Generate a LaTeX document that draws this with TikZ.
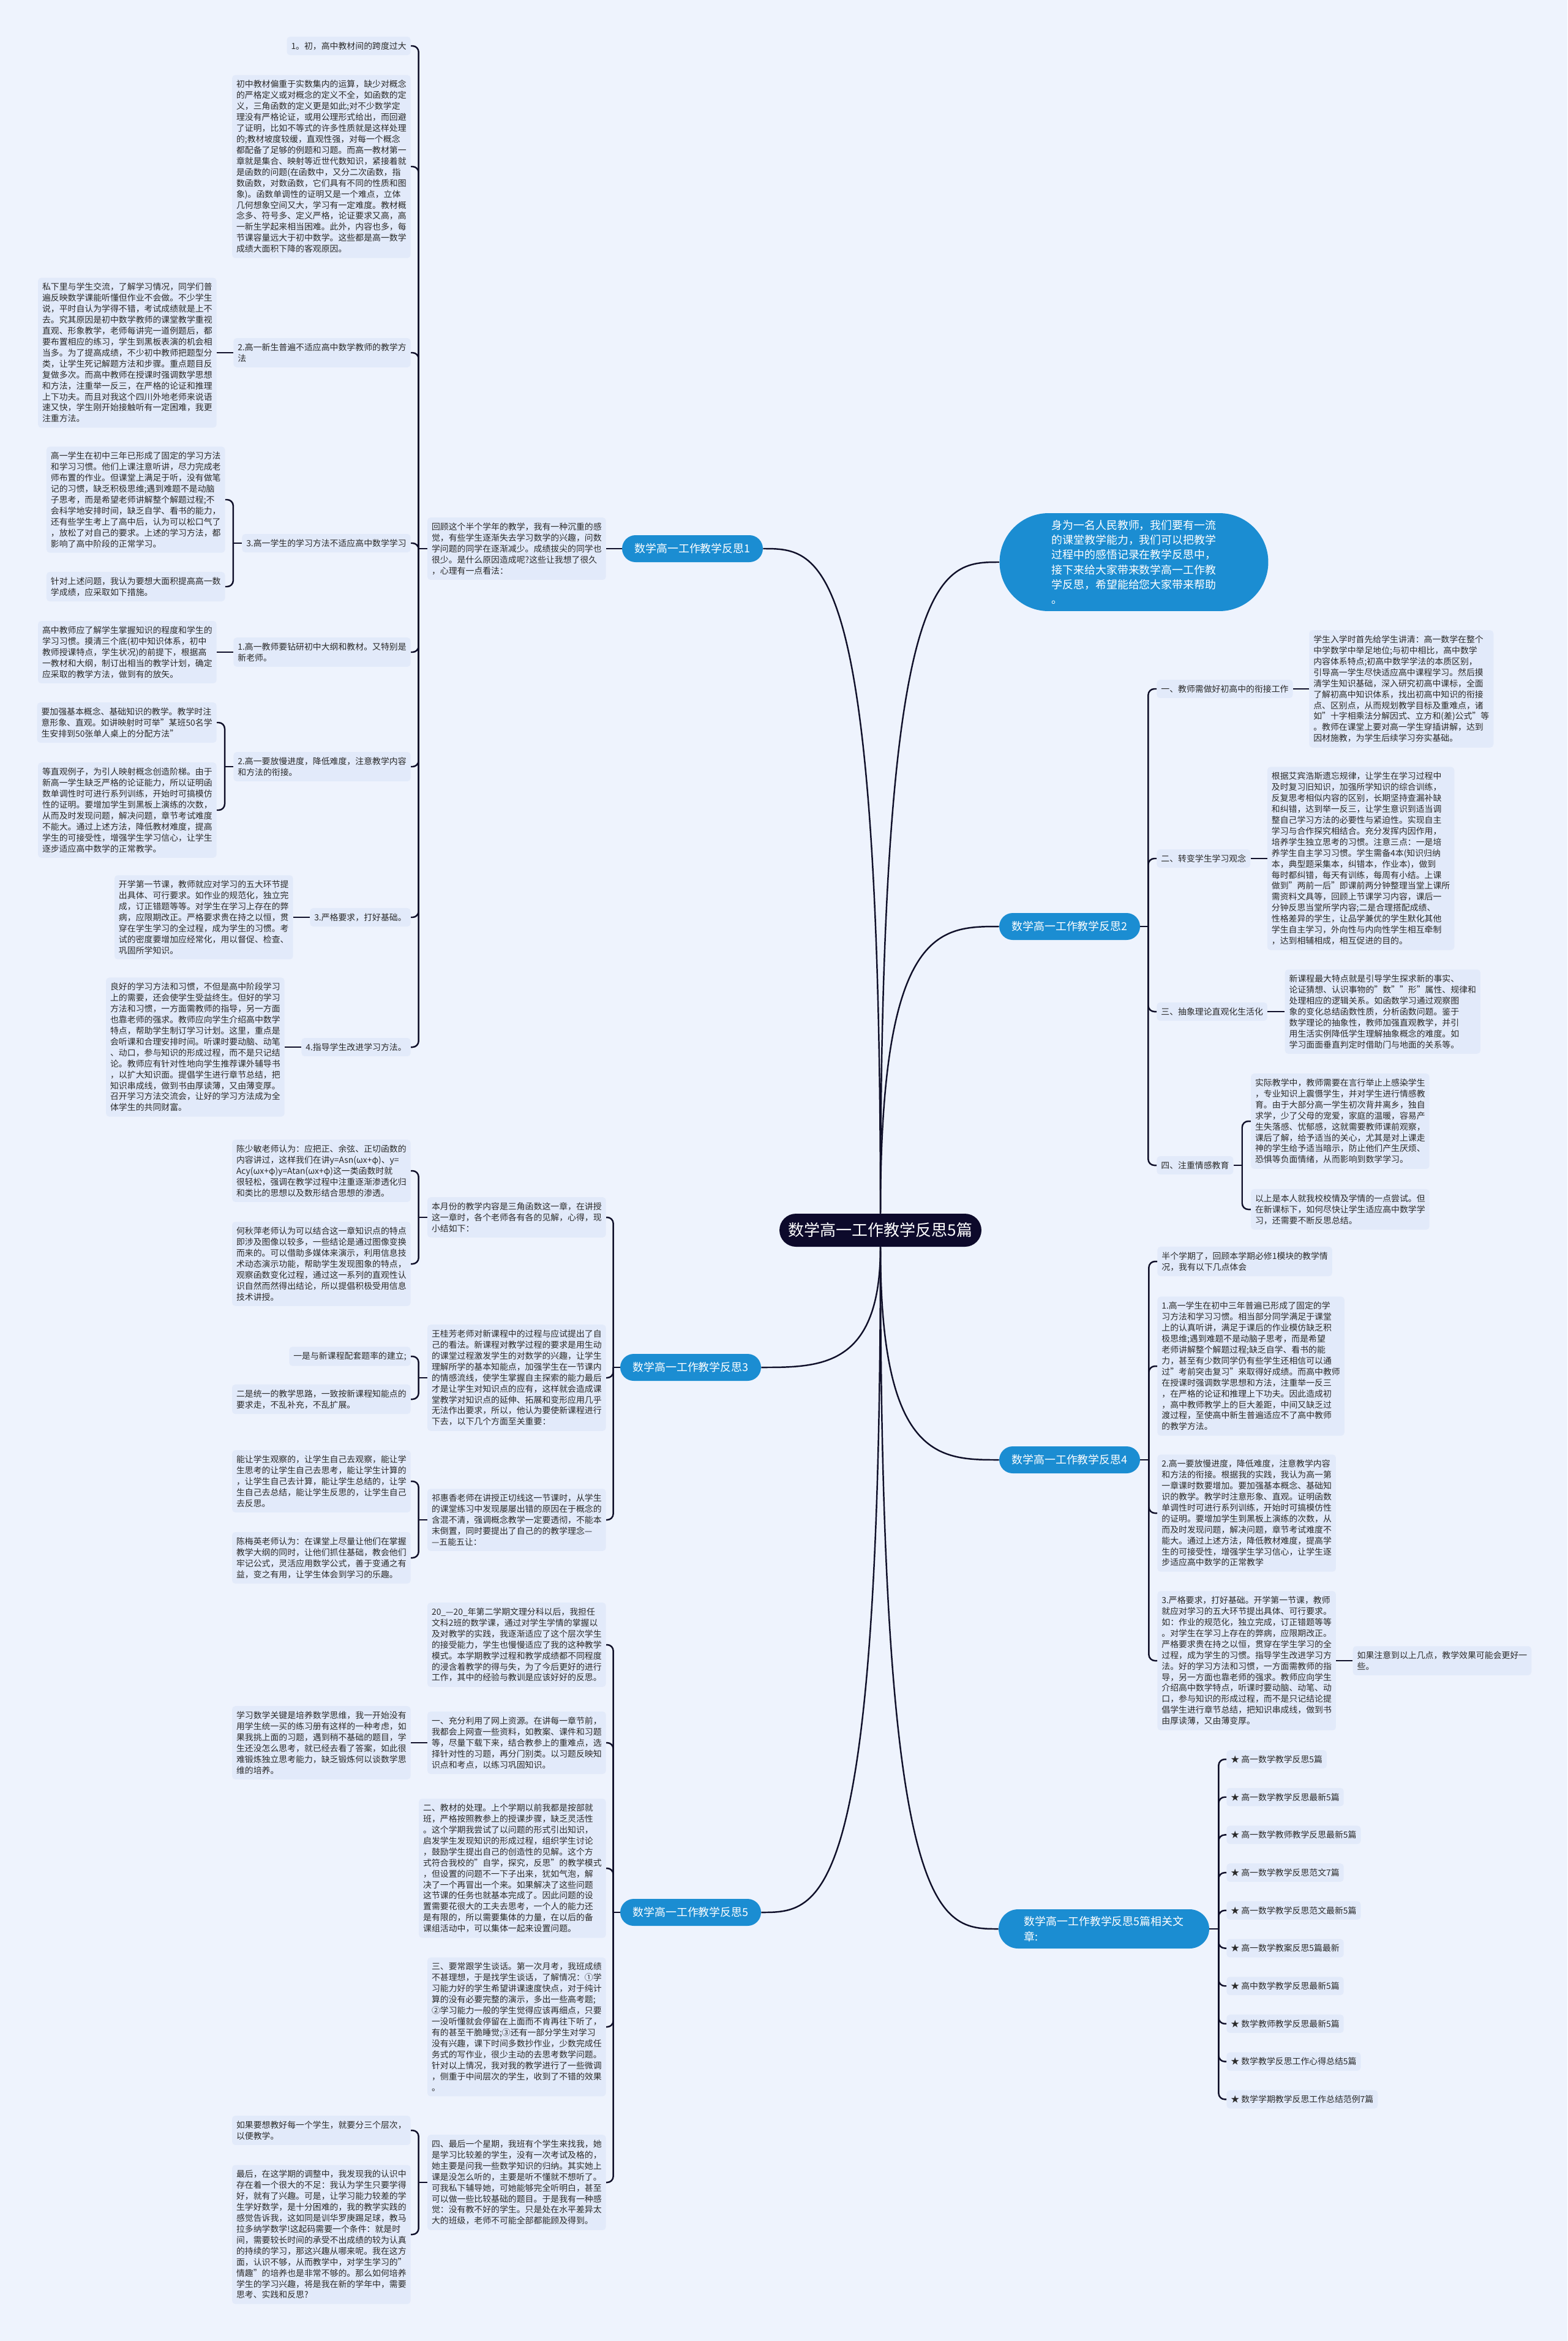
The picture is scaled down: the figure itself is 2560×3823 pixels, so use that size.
\documentclass[tikz,border=0pt]{standalone}
\usepackage{fontspec}
\setmainfont{Noto Sans CJK SC}
\usetikzlibrary{calc,positioning}

\definecolor{pagebg}{HTML}{EEF3FD}
\definecolor{boxfill}{HTML}{E2EAFA}
\definecolor{pillblue}{HTML}{1B8DD2}
\definecolor{rootnavy}{HTML}{0D0A2B}
\definecolor{wire}{HTML}{10102A}
\definecolor{ink}{HTML}{2A2A2A}

\begin{document}
\begin{tikzpicture}[
  x=0.02cm,
  y=-0.02cm,
  txt/.style={fill=boxfill,rounded corners=3pt,align=left,text=ink,
              inner xsep=0.14cm,inner ysep=0.17cm,
              font=\fontsize{7.9}{10.2}\selectfont},
  pill/.style={fill=pillblue,text=white,rounded corners=0.44cm,inner sep=0pt,
               minimum width=4.6cm,minimum height=0.88cm,
               font=\fontsize{10.2}{13.8}\selectfont},
  bubble/.style={pill,rounded corners=1.6cm,align=left,
                 minimum width=8.78cm,minimum height=3.2cm},
  rootbox/.style={fill=rootnavy,text=white,rounded corners=0.54cm,inner sep=0pt,
                  minimum width=6.6cm,minimum height=1.08cm,
                  font=\fontsize{14.8}{18}\selectfont},
  trunk/.style={draw=wire,line width=1.4pt},
  link/.style={trunk,rounded corners=0.2cm}
]

\useasboundingbox (0,0) rectangle (2560,3823);
\fill[pagebg] (0,0) rectangle (2560,3823);

% =====================================================================
% root and first-level nodes
% =====================================================================
\node[rootbox] (ctr) at (1438,2009) {数学高一工作教学反思5篇};

\node[pill] (B1) at (1131,896)  {数学高一工作教学反思1};
\node[pill] (B3) at (1128,2233) {数学高一工作教学反思3};
\node[pill] (B5) at (1128,3123) {数学高一工作教学反思5};
\node[pill] (B2) at (1747,1513) {数学高一工作教学反思2};
\node[pill] (B4) at (1747,2384) {数学高一工作教学反思4};
\node[pill,align=left,minimum width=6.88cm,minimum height=1.28cm,
      rounded corners=0.64cm] (B6) at (1803,3150)
  {数学高一工作教学反思5篇相关文\\章:};

\node[bubble] (bub) at (1852,918)
  {身为一名人民教师，我们要有一流\\的课堂教学能力，我们可以把教学\\
   过程中的感悟记录在教学反思中，\\接下来给大家带来数学高一工作教\\
   学反思，希望能给您大家带来帮助\\。};

% curved trunks out of the root
\foreach \b/\s in {B1/north,B3/south,B5/south}{
  \draw[trunk] (ctr.\s) .. controls (ctr.\s |- \b.east)
    and ($(ctr.\s |- \b.east)!0.5!(\b.east)$) .. (\b.east);
}
\foreach \b/\s in {bub/north,B2/north,B4/south,B6/south}{
  \draw[trunk] (ctr.\s) .. controls (ctr.\s |- \b.west)
    and ($(ctr.\s |- \b.west)!0.5!(\b.west)$) .. (\b.west);
}

% =====================================================================
% Branch 1 (left, top)
% =====================================================================
\node[txt,anchor=east] (t1) at (990,896)
  {回顾这个半个学年的教学，我有一种沉重的感\\觉，有些学生逐渐失去学习数学的兴趣，问数\\
   学问题的同学在逐渐减少。成绩拔尖的同学也\\很少。是什么原因造成呢?这些让我想了很久\\
   ，心理有一点看法：};
\draw[trunk] (B1.west) -- (t1.east);
\draw[trunk] (t1.west) -- ++(-14,0) coordinate (j1);

\node[txt,anchor=east] (a1) at (671,75) {1。初，高中教材间的跨度过大};
\node[txt,anchor=east] (a2) at (671,272)
  {初中教材偏重于实数集内的运算，缺少对概念\\的严格定义或对概念的定义不全，如函数的定\\
   义，三角函数的定义更是如此;对不少数学定\\理没有严格论证，或用公理形式给出，而回避\\
   了证明，比如不等式的许多性质就是这样处理\\的;教材坡度较缓，直观性强，对每一个概念\\
   都配备了足够的例题和习题。而高一教材第一\\章就是集合、映射等近世代数知识，紧接着就\\
   是函数的问题(在函数中，又分二次函数，指\\数函数，对数函数，它们具有不同的性质和图\\
   象)。函数单调性的证明又是一个难点，立体\\几何想象空间又大，学习有一定难度。教材概\\
   念多、符号多、定义严格，论证要求又高，高\\一新生学起来相当困难。此外，内容也多，每\\
   节课容量远大于初中数学。这些都是高一数学\\成绩大面积下降的客观原因。};
\node[txt,anchor=east] (a3) at (671,576)
  {2.高一新生普遍不适应高中数学教师的教学方\\法};
\node[txt,anchor=east] (a4) at (671,887) {3.高一学生的学习方法不适应高中数学学习};
\node[txt,anchor=east] (a5) at (671,1065)
  {1.高一教师要钻研初中大纲和教材。又特别是\\新老师。};
\node[txt,anchor=east] (a6) at (671,1252)
  {2.高一要放慢进度，降低难度，注意教学内容\\和方法的衔接。};
\node[txt,anchor=east] (a7) at (671,1498) {3.严格要求，打好基础。};
\node[txt,anchor=east] (a8) at (671,1710) {4.指导学生改进学习方法。};
\foreach \n in {a1,a2,a3,a4,a5,a6,a7,a8}{
  \draw[link] (j1) |- (\n.east);
}

\node[txt,anchor=east,left=0.54cm of a3] (a3c)
  {私下里与学生交流，了解学习情况，同学们普\\遍反映数学课能听懂但作业不会做。不少学生\\
   说，平时自认为学得不错，考试成绩就是上不\\去。究其原因是初中数学教师的课堂教学重视\\
   直观、形象教学，老师每讲完一道例题后，都\\要布置相应的练习，学生到黑板表演的机会相\\
   当多。为了提高成绩，不少初中教师把题型分\\类，让学生死记解题方法和步骤。重点题目反\\
   复做多次。而高中教师在授课时强调数学思想\\和方法，注重举一反三，在严格的论证和推理\\
   上下功夫。而且对我这个四川外地老师来说语\\速又快，学生刚开始接触听有一定困难，我更\\
   注重方法。};
\draw[trunk] (a3.west) -- (a3c.east);

\node[txt,anchor=east] (a4u) at ($(a4.west)+(-27,-71)$)
  {高一学生在初中三年已形成了固定的学习方法\\和学习习惯。他们上课注意听讲，尽力完成老\\
   师布置的作业。但课堂上满足于听，没有做笔\\记的习惯，缺乏积极思维;遇到难题不是动脑\\
   子思考，而是希望老师讲解整个解题过程;不\\会科学地安排时间，缺乏自学、看书的能力，\\
   还有些学生考上了高中后，认为可以松口气了\\，放松了对自己的要求。上述的学习方法，都\\
   影响了高中阶段的正常学习。};
\node[txt,anchor=east] (a4d) at ($(a4.west)+(-27,71)$)
  {针对上述问题，我认为要想大面积提高高一数\\学成绩，应采取如下措施。};
\draw[trunk] (a4.west) -- ++(-14,0) coordinate (j1d);
\draw[link] (j1d) |- (a4u.east);
\draw[link] (j1d) |- (a4d.east);

\node[txt,anchor=east,left=0.54cm of a5] (a5c)
  {高中教师应了解学生掌握知识的程度和学生的\\学习习惯。摸清三个底(初中知识体系，初中\\
   教师授课特点，学生状况)的前提下，根据高\\一教材和大纲，制订出相当的教学计划，确定\\
   应采取的教学方法，做到有的放矢。};
\draw[trunk] (a5.west) -- (a5c.east);

\node[txt,anchor=east] (a6u) at ($(a6.west)+(-27,-72)$)
  {要加强基本概念、基础知识的教学。教学时注\\意形象、直观。如讲映射时可举"某班50名学\\
   生安排到50张单人桌上的分配方法"};
\node[txt,anchor=east] (a6d) at ($(a6.west)+(-27,71)$)
  {等直观例子，为引人映射概念创造阶梯。由于\\新高一学生缺乏严格的论证能力，所以证明函\\
   数单调性时可进行系列训练，开始时可搞模仿\\性的证明。要增加学生到黑板上演练的次数，\\
   从而及时发现问题，解决问题，章节考试难度\\不能大。通过上述方法，降低教材难度，提高\\
   学生的可接受性，增强学生学习信心，让学生\\逐步适应高中数学的正常教学。};
\draw[trunk] (a6.west) -- ++(-14,0) coordinate (j1f);
\draw[link] (j1f) |- (a6u.east);
\draw[link] (j1f) |- (a6d.east);

\node[txt,anchor=east,left=0.54cm of a7] (a7c)
  {开学第一节课，教师就应对学习的五大环节提\\出具体、可行要求。如作业的规范化，独立完\\
   成，订正错题等等。对学生在学习上存在的弊\\病，应限期改正。严格要求贵在持之以恒，贯\\
   穿在学生学习的全过程，成为学生的习惯。考\\试的密度要增加应经常化，用以督促、检查、\\
   巩固所学知识。};
\draw[trunk] (a7.west) -- (a7c.east);

\node[txt,anchor=east,left=0.54cm of a8] (a8c)
  {良好的学习方法和习惯，不但是高中阶段学习\\上的需要，还会使学生受益终生。但好的学习\\
   方法和习惯，一方面需教师的指导，另一方面\\也靠老师的强求。教师应向学生介绍高中数学\\
   特点，帮助学生制订学习计划。这里，重点是\\会听课和合理安排时间。听课时要动脑、动笔\\
   、动口，参与知识的形成过程，而不是只记结\\论。教师应有针对性地向学生推荐课外辅导书\\
   ，以扩大知识面。提倡学生进行章节总结，把\\知识串成线，做到书由厚读薄，又由薄变厚。\\
   召开学习方法交流会，让好的学习方法成为全\\体学生的共同财富。};
\draw[trunk] (a8.west) -- (a8c.east);

% =====================================================================
% Branch 3 (left, middle)
% =====================================================================
\draw[trunk] (B3.west) -- ++(-11,0) coordinate (j3);

\node[txt,anchor=east] (c3a) at (990,1988)
  {本月份的教学内容是三角函数这一章，在讲授\\这一章时，各个老师各有各的见解，心得，现\\
   小结如下：};
\node[txt,anchor=east] (c3b) at (990,2250)
  {王桂芳老师对新课程中的过程与应试提出了自\\己的看法。新课程对教学过程的要求是用生动\\
   的课堂过程激发学生的对数学的兴趣，让学生\\理解所学的基本知能点，加强学生在一节课内\\
   的情感流线，使学生掌握自主探索的能力最后\\才是让学生对知识点的应有，这样就会造成课\\
   堂教学对知识点的延伸、拓展和变形应用几乎\\无法作出要求，所以，他认为要使新课程进行\\
   下去，以下几个方面至关重要：};
\node[txt,anchor=east] (c3c) at (990,2482)
  {祁惠香老师在讲授正切线这一节课时，从学生\\的课堂练习中发现屡屡出错的原因在于概念的\\
   含混不清，强调概念教学一定要透彻，不能本\\末倒置，同时要提出了自己的的教学理念—\\
   —五能五让：};
\foreach \n in {c3a,c3b,c3c}{
  \draw[link] (j3) |- (\n.east);
}

\node[txt,anchor=east] (c3a1) at (671,1912)
  {陈少敏老师认为：应把正、余弦、正切函数的\\内容讲过，这样我们在讲y=Asn(ωx+φ)、y=\\
   Acy(ωx+φ)y=Atan(ωx+φ)这一类函数时就\\很轻松，强调在教学过程中注重逐渐渗透化归\\
   和类比的思想以及数形结合思想的渗透。};
\node[txt,anchor=east] (c3a2) at (671,2064)
  {何秋萍老师认为可以结合这一章知识点的特点\\即涉及图像以较多，一些结论是通过图像变换\\
   而来的。可以借助多媒体来演示，利用信息技\\术动态演示功能，帮助学生发现图象的特点，\\
   观察函数变化过程，通过这一系列的直观性认\\识自然而然得出结论，所以提倡积极受用信息\\
   技术讲授。};
\draw[trunk] (c3a.west) -- ++(-14,0) coordinate (j3a);
\draw[link] (j3a) |- (c3a1.east);
\draw[link] (j3a) |- (c3a2.east);

\node[txt,anchor=east] (c3b1) at (671,2215) {一是与新课程配套题率的建立;};
\node[txt,anchor=east] (c3b2) at (671,2285)
  {二是统一的教学思路，一致按新课程知能点的\\要求走，不乱补充，不乱扩展。};
\draw[trunk] (c3b.west) -- ++(-14,0) coordinate (j3b);
\draw[link] (j3b) |- (c3b1.east);
\draw[link] (j3b) |- (c3b2.east);

\node[txt,anchor=east] (c3c1) at (671,2419)
  {能让学生观察的，让学生自己去观察，能让学\\生思考的让学生自己去思考，能让学生计算的\\
   ，让学生自己去计算，能让学生总结的，让学\\生自己去总结，能让学生反思的，让学生自己\\
   去反思。};
\node[txt,anchor=east] (c3c2) at (671,2544)
  {陈梅英老师认为：在课堂上尽量让他们在掌握\\教学大纲的同时，让他们抓住基础，教会他们\\
   牢记公式，灵活应用数学公式，善于变通之有\\益，变之有用，让学生体会到学习的乐趣。};
\draw[trunk] (c3c.west) -- ++(-14,0) coordinate (j3c);
\draw[link] (j3c) |- (c3c1.east);
\draw[link] (j3c) |- (c3c2.east);

% =====================================================================
% Branch 5 (left, bottom)
% =====================================================================
\draw[trunk] (B5.west) -- ++(-11,0) coordinate (j5);

\node[txt,anchor=east] (c5a) at (990,2686)
  {20\_—20\_年第二学期文理分科以后，我担任\\文科2班的数学课，通过对学生学情的掌握以\\
   及对教学的实践，我逐渐适应了这个层次学生\\的接受能力，学生也慢慢适应了我的这种教学\\
   模式。本学期教学过程和教学成绩都不同程度\\的浸含着教学的得与失，为了今后更好的进行\\
   工作，其中的经验与教训是应该好好的反思。};
\node[txt,anchor=east] (c5b) at (990,2846)
  {一、充分利用了网上资源。在讲每一章节前，\\我都会上网查一些资料，如教案、课件和习题\\
   等，尽量下载下来，结合教参上的重难点，选\\择针对性的习题，再分门别类。以习题反映知\\
   识点和考点，以练习巩固知识。};
\node[txt,anchor=east] (c5c) at (990,3051)
  {二、教材的处理。上个学期以前我都是按部就\\班，严格按照教参上的授课步骤，缺乏灵活性\\
   。这个学期我尝试了以问题的形式引出知识，\\启发学生发现知识的形成过程，组织学生讨论\\
   ，鼓励学生提出自己的创造性的见解。这个方\\式符合我校的"自学，探究，反思"的教学模式\\
   ，但设置的问题不一下子出来，犹如气泡，解\\决了一个再冒出一个来。如果解决了这些问题\\
   这节课的任务也就基本完成了。因此问题的设\\置需要花很大的工夫去思考，一个人的能力还\\
   是有限的，所以需要集体的力量，在以后的备\\课组活动中，可以集体一起来设置问题。};
\node[txt,anchor=east] (c5d) at (990,3310)
  {三、要常跟学生谈话。第一次月考，我班成绩\\不甚理想，于是找学生谈话，了解情况：①学\\
   习能力好的学生希望讲课速度快点，对于纯计\\算的没有必要完整的演示，多出一些高考题;\\
   ②学习能力一般的学生觉得应该再细点，只要\\一没听懂就会停留在上面而不肯再往下听了，\\
   有的甚至干脆睡觉;③还有一部分学生对学习\\没有兴趣，课下时间多数抄作业，少数完成任\\
   务式的写作业，很少主动的去思考数学问题。\\针对以上情况，我对我的教学进行了一些微调\\
   ，侧重于中间层次的学生，收到了不错的效果\\。};
\node[txt,anchor=east] (c5e) at (990,3564)
  {四、最后一个星期，我班有个学生来找我，她\\是学习比较差的学生，没有一次考试及格的，\\
   她主要是问我一些数学知识的归纳。其实她上\\课是没怎么听的，主要是听不懂就不想听了。\\
   可我私下辅导她，可她能够完全听明白，甚至\\可以做一些比较基础的题目。于是我有一种感\\
   觉：没有教不好的学生。只是处在水平差异太\\大的班级，老师不可能全部都能顾及得到。};
\foreach \n in {c5a,c5b,c5c,c5d,c5e}{
  \draw[link] (j5) |- (\n.east);
}

\node[txt,anchor=east] (c5b1) at (671,2846)
  {学习数学关键是培养数学思维，我一开始没有\\用学生统一买的练习册有这样的一种考虑，如\\
   果我挑上面的习题，遇到稍不基础的题目，学\\生还没怎么思考，就已经去看了答案，如此很\\
   难锻炼独立思考能力，缺乏锻炼何以谈数学思\\维的培养。};
\draw[trunk] (c5b.west) -- (c5b1.east);

\node[txt,anchor=east] (c5e1) at (671,3479)
  {如果要想教好每一个学生，就要分三个层次，\\以便教学。};
\node[txt,anchor=east] (c5e2) at (671,3649)
  {最后，在这学期的调整中，我发现我的认识中\\存在着一个很大的不足：我认为学生只要学得\\
   好，就有了兴趣。可是，让学习能力较差的学\\生学好数学，是十分困难的，我的教学实践的\\
   感觉告诉我，这如同是训华罗庚踢足球，教马\\拉多纳学数学!这起码需要一个条件：就是时\\
   间，需要较长时间的承受不出成绩的较为认真\\的持续的学习，那这兴趣从哪来呢。我在这方\\
   面，认识不够，从而教学中，对学生学习的"\\情趣"的培养也是非常不够的。那么如何培养\\
   学生的学习兴趣，将是我在新的学年中，需要\\思考、实践和反思?};
\draw[trunk] (c5e.west) -- ++(-14,0) coordinate (j5e);
\draw[link] (j5e) |- (c5e1.east);
\draw[link] (j5e) |- (c5e2.east);

% =====================================================================
% Branch 2 (right, top)
% =====================================================================
\draw[trunk] (B2.east) -- ++(13,0) coordinate (j2);

\node[txt,anchor=west] (d1) at (1889,1125) {一、教师需做好初高中的衔接工作};
\node[txt,anchor=west] (d2) at (1889,1402) {二、转变学生学习观念};
\node[txt,anchor=west] (d3) at (1889,1652) {三、抽象理论直观化生活化};
\node[txt,anchor=west] (d4) at (1889,1903) {四、注重情感教育};
\foreach \n in {d1,d2,d3,d4}{
  \draw[link] (j2) |- (\n.west);
}

\node[txt,anchor=west,right=0.52cm of d1] (d1c)
  {学生入学时首先给学生讲清：高一数学在整个\\中学数学中举足地位;与初中相比，高中数学\\
   内容体系特点;初高中数学学法的本质区别，\\引导高一学生尽快适应高中课程学习。然后摸\\
   清学生知识基础，深入研究初高中课标，全面\\了解初高中知识体系，找出初高中知识的衔接\\
   点、区别点，从而规划教学目标及重难点，诸\\如"十字相乘法分解因式、立方和(差)公式"等\\
   。教师在课堂上要对高一学生穿插讲解，达到\\因材施教，为学生后续学习夯实基础。};
\draw[trunk] (d1.east) -- (d1c.west);

\node[txt,anchor=west,right=0.54cm of d2] (d2c)
  {根据艾宾浩斯遗忘规律，让学生在学习过程中\\及时复习旧知识，加强所学知识的综合训练，\\
   反复思考相似内容的区别，长期坚持查漏补缺\\和纠错，达到举一反三，让学生意识到适当调\\
   整自己学习方法的必要性与紧迫性。实现自主\\学习与合作探究相结合。充分发挥内因作用，\\
   培养学生独立思考的习惯。注意三点：一是培\\养学生自主学习习惯。学生需备4本(知识归纳\\
   本，典型题采集本，纠错本，作业本)，做到\\每时都纠错，每天有训练，每周有小结。上课\\
   做到"两前一后"即课前两分钟整理当堂上课所\\需资料文具等，回顾上节课学习内容，课后一\\
   分钟反思当堂所学内容;二是合理搭配成绩、\\性格差异的学生，让品学兼优的学生默化其他\\
   学生自主学习，外向性与内向性学生相互牵制\\，达到相辅相成，相互促进的目的。};
\draw[trunk] (d2.east) -- (d2c.west);

\node[txt,anchor=west,right=0.56cm of d3] (d3c)
  {新课程最大特点就是引导学生探求新的事实、\\论证猜想、认识事物的"数""形"属性、规律和\\
   处理相应的逻辑关系。如函数学习通过观察图\\象的变化总结函数性质，分析函数问题。鉴于\\
   数学理论的抽象性，教师加强直观教学，并引\\用生活实例降低学生理解抽象概念的难度。如\\
   学习面面垂直判定时借助门与地面的关系等。};
\draw[trunk] (d3.east) -- (d3c.west);

\node[txt,anchor=west] (d4u) at ($(d4.east)+(28,-72)$)
  {实际教学中，教师需要在言行举止上感染学生\\，专业知识上震慑学生，并对学生进行情感教\\
   育。由于大部分高一学生初次背井离乡，独自\\求学，少了父母的宠爱，家庭的温暖，容易产\\
   生失落感、忧郁感，这就需要教师课前观察，\\课后了解，给予适当的关心，尤其是对上课走\\
   神的学生给予适当暗示，防止他们产生厌烦、\\恐惧等负面情绪，从而影响到数学学习。};
\node[txt,anchor=west] (d4d) at ($(d4.east)+(28,72)$)
  {以上是本人就我校校情及学情的一点尝试。但\\在新课标下，如何尽快让学生适应高中数学学\\
   习，还需要不断反思总结。};
\draw[trunk] (d4.east) -- ++(14,0) coordinate (j2d);
\draw[link] (j2d) |- (d4u.west);
\draw[link] (j2d) |- (d4d.west);

% =====================================================================
% Branch 4 (right, middle)
% =====================================================================
\draw[trunk] (B4.east) -- ++(14,0) coordinate (j4);

\node[txt,anchor=west] (e1) at (1890,2060)
  {半个学期了，回顾本学期必修1模块的教学情\\况，我有以下几点体会};
\node[txt,anchor=west] (e2) at (1890,2231)
  {1.高一学生在初中三年普遍已形成了固定的学\\习方法和学习习惯。相当部分同学满足于课堂\\
   上的认真听讲，满足于课后的作业模仿缺乏积\\极思维;遇到难题不是动脑子思考，而是希望\\
   老师讲解整个解题过程;缺乏自学、看书的能\\力，甚至有少数同学仍有些学生还相信可以通\\
   过"考前突击复习"来取得好成绩。而高中教师\\在授课时强调数学思想和方法，注重举一反三\\
   ，在严格的论证和推理上下功夫。因此造成初\\，高中教师教学上的巨大差距，中间又缺乏过\\
   渡过程，至使高中新生普遍适应不了高中教师\\的教学方法。};
\node[txt,anchor=west] (e3) at (1890,2471)
  {2.高一要放慢进度，降低难度，注意教学内容\\和方法的衔接。根据我的实践，我认为高一第\\
   一章课时数要增加。要加强基本概念、基础知\\识的教学。教学时注意形象、直观。证明函数\\
   单调性时可进行系列训练，开始时可搞模仿性\\的证明。要增加学生到黑板上演练的次数，从\\
   而及时发现问题，解决问题，章节考试难度不\\能大。通过上述方法，降低教材难度，提高学\\
   生的可接受性，增强学生学习信心，让学生逐\\步适应高中数学的正常教学};
\node[txt,anchor=west] (e4) at (1890,2712)
  {3.严格要求，打好基础。开学第一节课，教师\\就应对学习的五大环节提出具体、可行要求。\\
   如：作业的规范化，独立完成，订正错题等等\\。对学生在学习上存在的弊病，应限期改正。\\
   严格要求贵在持之以恒，贯穿在学生学习的全\\过程，成为学生的习惯。指导学生改进学习方\\
   法。好的学习方法和习惯，一方面需教师的指\\导，另一方面也靠老师的强求。教师应向学生\\
   介绍高中数学特点，听课时要动脑、动笔、动\\口，参与知识的形成过程，而不是只记结论提\\
   倡学生进行章节总结，把知识串成线，做到书\\由厚读薄，又由薄变厚。};
\foreach \n in {e1,e2,e3,e4}{
  \draw[link] (j4) |- (\n.west);
}

\node[txt,anchor=west,right=0.54cm of e4] (e4c)
  {如果注意到以上几点，教学效果可能会更好一\\些。};
\draw[trunk] (e4.east) -- (e4c.west);

% =====================================================================
% related articles (right, bottom)
% =====================================================================
\draw[trunk] (B6.east) -- ++(15,0) coordinate (j6);
\foreach \t [count=\i] in {高一数学教学反思5篇,高一数学教学反思最新5篇,
    高一数学教师教学反思最新5篇,高一数学教学反思范文7篇,
    高一数学教学反思范文最新5篇,高一数学教案反思5篇最新,
    高中数学教学反思最新5篇,数学教师教学反思最新5篇,
    数学教学反思工作心得总结5篇,数学学期教学反思工作总结范例7篇}{
  \node[txt,anchor=west] (rel\i) at (2003,{2873+61.7*(\i-1)}) {★ \t};
  \draw[link] (j6) |- (rel\i.west);
}

\end{tikzpicture}
\end{document}
